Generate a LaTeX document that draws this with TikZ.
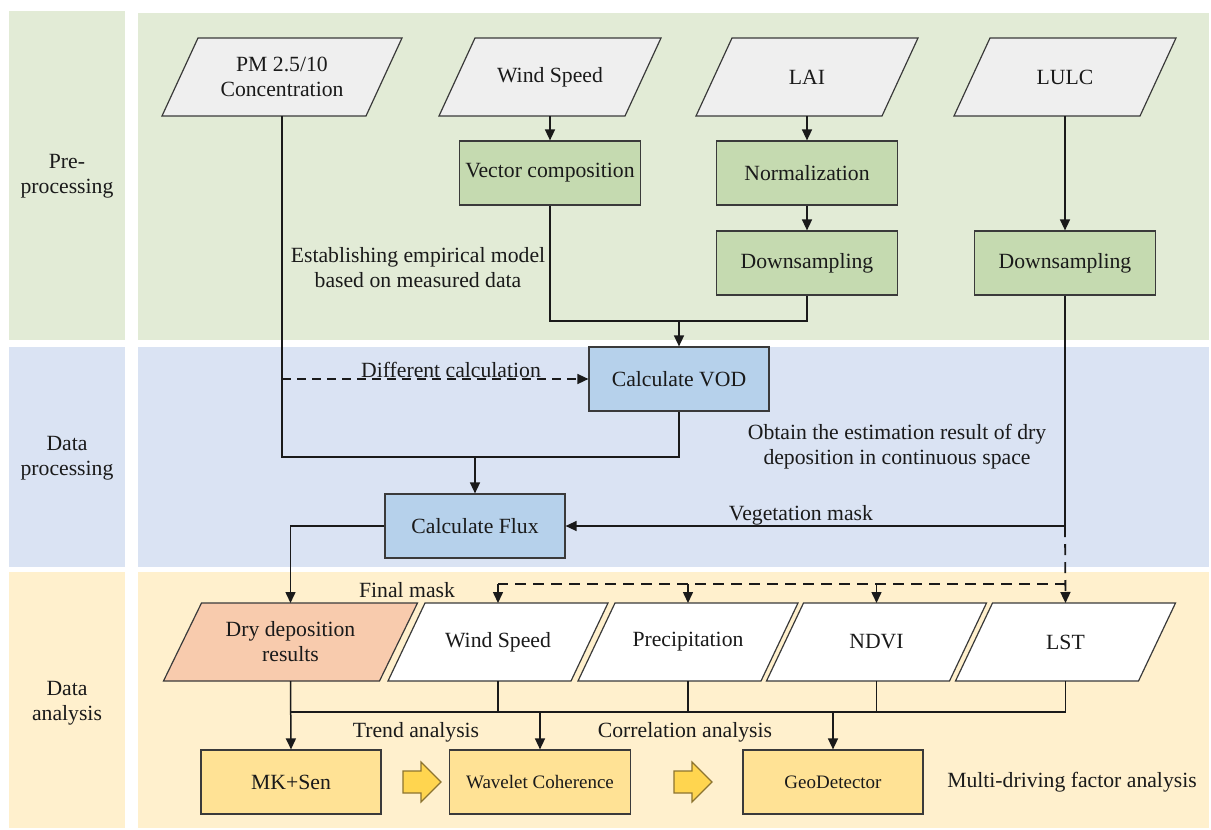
\documentclass[tikz,border=0pt]{standalone}
\usepackage{fontspec}
\setmainfont{Liberation Serif}
\usetikzlibrary{arrows.meta}
\definecolor{bgG}{HTML}{E2EBD6}
\definecolor{bgB}{HTML}{DAE3F3}
\definecolor{bgO}{HTML}{FFF0CD}
\definecolor{inGray}{HTML}{EFEFEF}
\definecolor{boxG}{HTML}{C5DAB0}
\definecolor{boxB}{HTML}{B6D1EB}
\definecolor{salmon}{HTML}{F8CBAD}
\definecolor{boxY}{HTML}{FFE295}
\definecolor{arrY}{HTML}{FFD54F}
\definecolor{arrEdge}{HTML}{8C7430}
\definecolor{edge}{HTML}{3A3A3A}
\definecolor{ink}{HTML}{1A1A1A}
\pgfdeclarelayer{bands}
\pgfdeclarelayer{shapes}
\pgfsetlayers{bands,shapes,main}
\newcommand{\mypara}[3]{% name, fill, half slant
  \begin{pgfonlayer}{shapes}
  \draw[draw=edge, line width=1.2pt, fill=#2, line join=miter]
    ([xshift=#3pt]#1.north west) -- ([xshift=#3pt]#1.north east) --
    ([xshift=-#3pt]#1.south east) -- ([xshift=-#3pt]#1.south west) -- cycle;
  \end{pgfonlayer}}
\begin{document}
\begin{tikzpicture}[x=1pt,y=1pt,
  font=\fontsize{21.7}{25}\selectfont, text=ink,
  para/.style={rectangle, minimum width=186pt, minimum height=78pt,
    align=center, inner sep=0pt, outer sep=0pt},
  gbox/.style={rectangle, draw=edge, line width=1.2pt, fill=boxG,
    minimum width=181pt, minimum height=64pt, inner sep=2pt, align=center},
  bbox/.style={gbox, fill=boxB},
  ybox/.style={gbox, fill=boxY},
  conn/.style={draw=ink, line width=1.5pt},
  arr/.style={conn, -{Triangle[length=11pt,width=10pt]}},
  dsh/.style={dash pattern=on 9pt off 6pt},
  dshb/.style={line width=1.8pt, dash pattern=on 11pt off 7pt},
  lbl/.style={align=center, inner sep=0pt},
  blk/.style={fill=arrY, draw=arrEdge, line width=1.1pt, line join=miter}
]
\useasboundingbox (0,0) rectangle (1211,-830);
\begin{pgfonlayer}{bands}
\fill[white] (0,0) rectangle (1211,-830);
\fill[bgG] (9,-11) rectangle (125,-340);
\fill[bgG] (138,-13) rectangle (1209,-340);
\fill[bgB] (9,-347) rectangle (125,-567);
\fill[bgB] (138,-347) rectangle (1209,-567);
\fill[bgO] (9,-572) rectangle (125,-828);
\fill[bgO] (138,-572) rectangle (1209,-828);
\end{pgfonlayer}
% band labels
\node[lbl] (lpre) at (67,-176) {Pre-\\processing};
\node[lbl] (ldp) at (67,-458) {Data\\processing};
\node[lbl] (lda) at (67,-703) {Data\\analysis};
% inputs
\node[para, minimum width=204pt] (pm) at (282,-77) {PM 2.5/10\\Concentration};
\node[para] (wind1) at (550,-77) {Wind Speed};
\node[para] (lai) at (807,-77) {LAI};
\node[para] (lulc) at (1065,-77) {LULC};
\mypara{pm}{inGray}{18}
\mypara{wind1}{inGray}{18}
\mypara{lai}{inGray}{18}
\mypara{lulc}{inGray}{18}
% preprocessing boxes
\node[gbox] (vec) at (550,-173) {Vector composition};
\node[gbox] (norm) at (807,-173) {Normalization};
\node[gbox] (down1) at (807,-263) {Downsampling};
\node[gbox] (down2) at (1065,-263) {Downsampling};
% processing boxes
\node[bbox, minimum width=180pt] (vod) at (679,-379) {Calculate VOD};
\node[bbox, minimum width=180pt] (flux) at (475,-526) {Calculate Flux};
% analysis inputs
\node[para, minimum width=216pt] (dry) at (290.5,-642) {Dry deposition\\results};
\node[para, minimum width=183pt] (wind2) at (498,-642) {Wind Speed};
\node[para, minimum width=183pt] (prec) at (688,-642) {Precipitation};
\node[para, minimum width=183pt] (ndvi) at (876.5,-642) {NDVI};
\node[para, minimum width=183pt] (lst) at (1065.5,-642) {LST};
\mypara{dry}{salmon}{19}
\mypara{wind2}{white}{18.5}
\mypara{prec}{white}{18.5}
\mypara{ndvi}{white}{18.5}
\mypara{lst}{white}{18.5}
% analysis boxes
\node[ybox, minimum width=180pt] (mk) at (291,-782) {MK+Sen};
\node[ybox, font=\fontsize{19}{22}\selectfont] (wav) at (540,-782) {Wavelet Coherence};
\node[ybox, minimum width=180pt, font=\fontsize{19}{22}\selectfont] (geo) at (833,-782) {GeoDetector};
% block arrows
\draw[blk, shift={(422,-782)}] (-19,11) -- (-1,11) -- (-1,20) -- (19,0) -- (-1,-20) -- (-1,-11) -- (-19,-11) -- cycle;
\draw[blk, shift={(693,-782)}] (-19,11) -- (-1,11) -- (-1,20) -- (19,0) -- (-1,-20) -- (-1,-11) -- (-19,-11) -- cycle;
% junction coordinates
\coordinate (j1) at (679,-321);
\coordinate (j2) at (475,-457);
\coordinate (j3) at (500,-584);
\coordinate (j4) at (540,-712);
% preprocessing connectors
\draw[arr] (wind1.south) -- (vec.north);
\draw[arr] (lai.south) -- (norm.north);
\draw[arr] (norm.south) -- (down1.north);
\draw[arr] (lulc.south) -- (down2.north);
\draw[conn] (vec.south) -- (vec.south |- j1) -- (down1.south |- j1) -- (down1.south);
\draw[arr] (j1) -- (vod.north);
% PM line
\draw[conn] (pm.south) -- (pm.south |- j2) -- (vod.south |- j2) -- (vod.south);
\draw[arr] (j2) -- (flux.north);
\draw[arr, dsh] (pm.south |- vod.west) -- (vod.west);
% flux to dry
\draw[arr] (flux.west) -| (dry.north);
% vegetation mask
\draw[arr] (down2.south) |- (flux.east);
% final mask
\draw[arr, dshb] (down2.south |- flux.east) -- (lst.north);
\draw[conn, dshb] (lst.north |- j3) -- (wind2.north |- j3);
\draw[arr] (wind2.north |- j3) -- (wind2.north);
\draw[arr] (prec.north |- j3) -- (prec.north);
\draw[arr] (ndvi.north |- j3) -- (ndvi.north);
% analysis connectors
\draw[arr] (dry.south) -- (mk.north);
\draw[conn] (dry.south |- j4) -- (lst.south |- j4);
\draw[conn] (wind2.south) -- (wind2.south |- j4);
\draw[conn] (prec.south) -- (prec.south |- j4);
\draw[conn] (ndvi.south) -- (ndvi.south |- j4);
\draw[conn] (lst.south) -- (lst.south |- j4);
\draw[arr] (wav.north |- j4) -- (wav.north);
\draw[arr] (geo.north |- j4) -- (geo.north);
% labels
\node[lbl] (test) at (418,-268) {Establishing empirical model\\based on measured data};
\node[lbl, anchor=base] (tdiff) at (451,-377) {Different calculation};
\node[lbl] (tobt) at (897,-447) {Obtain the estimation result of dry\\deposition in continuous space};
\node[lbl, anchor=base] (tveg) at (801,-520) {Vegetation mask};
\node[lbl, anchor=base] (tfin) at (407,-597) {Final mask};
\node[lbl, anchor=base] (ttr) at (416,-737) {Trend analysis};
\node[lbl, anchor=base] (tcor) at (685,-737) {Correlation analysis};
\node[lbl, anchor=base] (tmul) at (1072,-787) {Multi-driving factor analysis};
\end{tikzpicture}
\end{document}
